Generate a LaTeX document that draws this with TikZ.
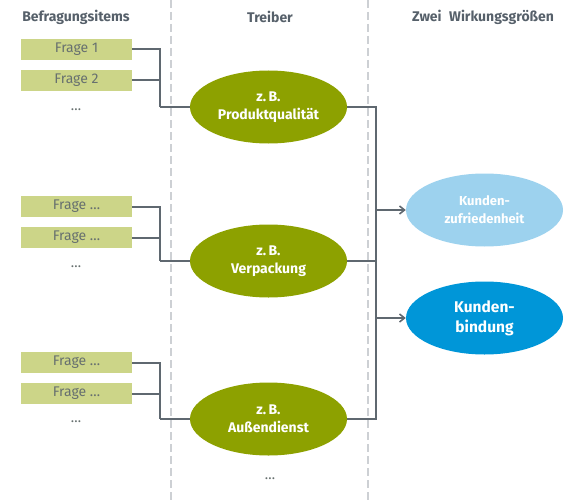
\documentclass[tikz,border=0pt]{standalone}
\usepackage{fontspec}
\setmainfont{Fira Sans}
\usetikzlibrary{arrows.meta,shapes.geometric}
\definecolor{lineg}{HTML}{5F6870}
\definecolor{dashg}{HTML}{CDD0D4}
\definecolor{boxg}{HTML}{CCD588}
\definecolor{boxtxt}{HTML}{67706F}
\definecolor{drv}{HTML}{8DA100}
\definecolor{lblue}{HTML}{9DD2EE}
\definecolor{dblue}{HTML}{0096D8}
\definecolor{headc}{HTML}{56606A}
\begin{document}
\begin{tikzpicture}[x=1pt,y=-1pt,
  frage/.style={fill=boxg,minimum width=111pt,minimum height=21pt,inner sep=0pt,text=boxtxt,font=\fontsize{14}{16}\selectfont},
  ell/.style={ellipse,draw=none,minimum width=157pt,minimum height=73pt,inner sep=0pt,align=center,text=white},
  drvtxt/.style={font=\bfseries\fontsize{14}{18}\selectfont},
  head/.style={text=headc,font=\bfseries\fontsize{14}{16}\selectfont},
  dots/.style={text=boxtxt,font=\fontsize{14}{16}\selectfont},
  conn/.style={draw=lineg,line width=2pt},
  arr/.style={conn,-{Straight Barb[length=5pt,width=8pt,line width=1.6pt]}},
  sep/.style={draw=dashg,line width=2pt,dash pattern=on 8pt off 4pt}]
\useasboundingbox (0,0) rectangle (580,500);
\draw[sep] (171,0) -- (171,500);
\draw[sep] (368,0) -- (368,500);
\node[head] (h1) at (76,17) {Befragungsitems};
\node[head] (h2) at (270,17) {Treiber};
\node[head] (h3) at (483,17) {Zwei\hspace{0.3em} Wirkungsgrößen};
% groups
\node[frage] (f1) at (76.5,49.5) {Frage 1};
\node[frage] (f2) at (76.5,80.5) {Frage 2};
\node[dots] (d1) at (76,110) {\dots};
\node[frage] (f3) at (76.5,206.5) {Frage \dots};
\node[frage] (f4) at (76.5,237.5) {Frage \dots};
\node[dots] (d2) at (76,267) {\dots};
\node[frage] (f5) at (76.5,362.5) {Frage \dots};
\node[frage] (f6) at (76.5,393.5) {Frage \dots};
\node[dots] (d3) at (76,422) {\dots};
\node[ell,fill=drv,drvtxt] (e1) at (268.5,107) {z.\,B.\\Produktqualität};
\node[ell,fill=drv,drvtxt] (e2) at (268.5,261) {z.\,B.\\Verpackung};
\node[ell,fill=drv,drvtxt] (e3) at (268.5,419) {z.\,B.\\Außendienst};
\node[dots] (d4) at (270,479) {\dots};
\node[ell,fill=lblue,font=\bfseries\fontsize{13}{18}\selectfont] (k1) at (484.5,210) {Kunden-\\zufriedenheit};
\node[ell,fill=dblue,font=\bfseries\fontsize{15.5}{20}\selectfont] (k2) at (484.5,318) {Kunden-\\bindung};
% connectors
\coordinate (j1) at (160,107);
\coordinate (j2) at (160,261);
\coordinate (j3) at (160,419);
\draw[conn] (f1.east) -| (j1);
\draw[conn] (f2.east) -| (j1);
\draw[conn] (j1) -- (e1.west);
\draw[conn] (f3.east) -| (j2);
\draw[conn] (f4.east) -| (j2);
\draw[conn] (j2) -- (e2.west);
\draw[conn] (f5.east) -| (j3);
\draw[conn] (f6.east) -| (j3);
\draw[conn] (j3) -- (e3.west);
\coordinate (r1) at (376,107);
\coordinate (r2) at (376,261);
\coordinate (r3) at (376,419);
\coordinate (ra) at (376,210);
\coordinate (rb) at (376,318);
\draw[conn] (e1.east) -- (r1);
\draw[conn] (e2.east) -- (r2);
\draw[conn] (e3.east) -- (r3);
\draw[conn,line cap=rect] (r1) -- (r3);
\draw[arr] (ra) -- (k1.west);
\draw[arr] (rb) -- (k2.west);
\end{tikzpicture}
\end{document}
